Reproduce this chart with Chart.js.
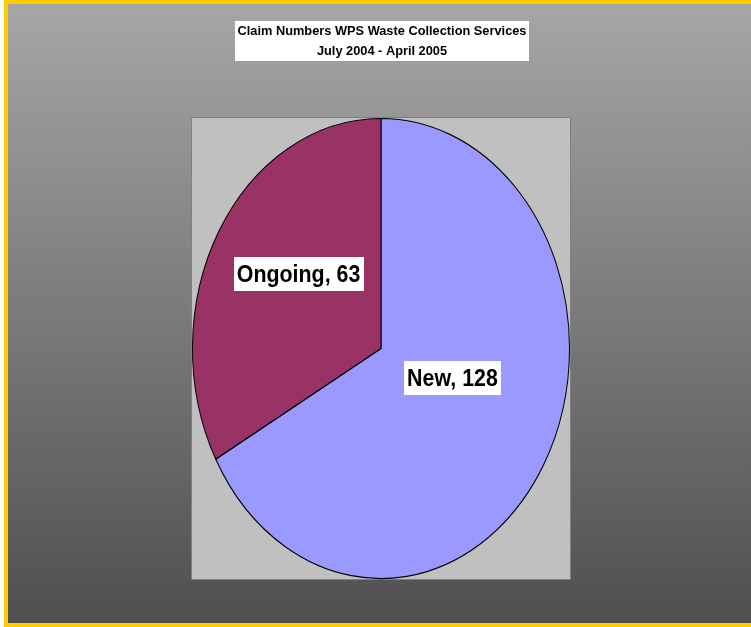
<!DOCTYPE html>
<html>
<head>
<meta charset="utf-8">
<script src="https://cdn.jsdelivr.net/npm/chart.js@4/dist/chart.umd.min.js"></script>
<style>
  html, body { margin: 0; padding: 0; background: #ffffff; }
  canvas { display: block; }
</style>
</head>
<body>
<canvas id="claimsPie" width="751" height="627"></canvas>
<script>
// Claim numbers by status
const categories = ['New', 'Ongoing'];
const claimCounts = [128, 63];
const sliceColors = ['#9999FF', '#993366'];
const titleLines = ['Claim Numbers WPS Waste Collection Services', 'July 2004 - April 2005'];

// where each data label sits inside its slice (fraction of radius, angle nudge in degrees)
const labelPlace = [{ r: 0.40, turn: -12 }, { r: 0.545, turn: 6 }];

// yellow frame, grey gradient and the plot area box
const backdrop = {
    id: 'backdrop',
    beforeDraw(chart) {
        const ctx = chart.ctx;
        const area = chart.chartArea;
        ctx.save();
        ctx.fillStyle = '#ffffff';
        ctx.fillRect(0, 0, chart.width, chart.height);
        ctx.fillStyle = '#FFCC00';
        ctx.fillRect(4, 0, chart.width - 4, chart.height);
        const grad = ctx.createLinearGradient(0, 4, 0, 623);
        grad.addColorStop(0, '#a6a6a6');
        grad.addColorStop(1, '#4f4f4f');
        ctx.fillStyle = grad;
        ctx.fillRect(8, 4, chart.width - 8, 619);
        ctx.fillStyle = '#c0c0c0';
        ctx.fillRect(area.left, area.top, area.width, area.height);
        ctx.strokeStyle = '#808080';
        ctx.lineWidth = 1;
        ctx.strokeRect(area.left - 0.5, area.top - 0.5, area.width + 1, area.height + 1);
        ctx.restore();
    }
};

// stretch the pie vertically so it fills the plot box as an ellipse
function pieStretch(chart) {
    const arc = chart.getDatasetMeta(0).data[0];
    return (chart.chartArea.height / 2 - 0.5) / arc.outerRadius;
}

const ellipse = {
    id: 'ellipse',
    beforeDatasetsDraw(chart) {
        const ctx = chart.ctx;
        const arc = chart.getDatasetMeta(0).data[0];
        ctx.save();
        ctx.translate(arc.x, arc.y);
        ctx.scale(1, pieStretch(chart));
        ctx.translate(-arc.x, -arc.y);
    },
    afterDatasetsDraw(chart) {
        chart.ctx.restore();
    }
};

function boxedText(ctx, text, cx, cy, size, squeeze, padX, boxH) {
    ctx.font = 'bold ' + size + 'px "Liberation Sans", Arial, sans-serif';
    const w = ctx.measureText(text).width * squeeze;
    ctx.fillStyle = '#ffffff';
    ctx.fillRect(Math.round(cx - w / 2 - padX), Math.round(cy - boxH / 2), Math.round(w + padX * 2), boxH);
    ctx.save();
    ctx.translate(cx, cy);
    ctx.scale(squeeze, 1);
    ctx.fillStyle = '#000000';
    ctx.textAlign = 'center';
    ctx.textBaseline = 'alphabetic';
    ctx.fillText(text, 0, size * 0.36);
    ctx.restore();
}

// title block and "Category, value" labels
const annotations = {
    id: 'annotations',
    afterDraw(chart) {
        const ctx = chart.ctx;
        const meta = chart.getDatasetMeta(0);
        const sy = pieStretch(chart);

        // title
        ctx.save();
        ctx.font = 'bold 12.8px "Liberation Sans", Arial, sans-serif';
        ctx.fillStyle = '#ffffff';
        ctx.fillRect(235, 21, 294, 40);
        ctx.fillStyle = '#000000';
        ctx.textAlign = 'center';
        ctx.fillText(titleLines[0], 382, 34.5);
        ctx.fillText(titleLines[1], 382, 55);
        ctx.restore();

        meta.data.forEach((arc, i) => {
            const mid = (arc.startAngle + arc.endAngle) / 2 + labelPlace[i].turn * Math.PI / 180;
            const rr = arc.outerRadius * labelPlace[i].r;
            const x = arc.x + Math.cos(mid) * rr;
            const y = arc.y + Math.sin(mid) * rr * sy;
            boxedText(ctx, categories[i] + ', ' + claimCounts[i], x, y, 23, 0.93, 3, 34);
        });
    }
};

new Chart(document.getElementById('claimsPie'), {
    type: 'pie',
    data: {
        labels: categories,
        datasets: [{
            data: claimCounts,
            backgroundColor: sliceColors,
            borderColor: '#000000',
            borderWidth: 1,
            hoverOffset: 0
        }]
    },
    options: {
        responsive: false,
        animation: false,
        events: [],
        layout: { padding: { left: 192, right: 181, top: 118, bottom: 48 } },
        plugins: {
            legend: { display: false },
            title: { display: false },
            tooltip: { enabled: false }
        }
    },
    plugins: [backdrop, ellipse, annotations]
});
</script>
</body>
</html>
